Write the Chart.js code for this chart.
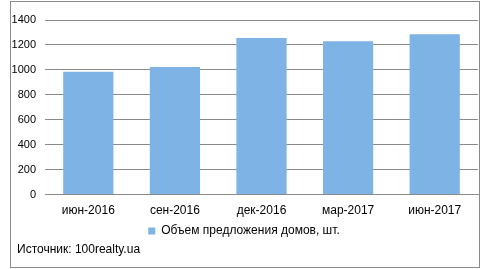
<!DOCTYPE html>
<html>
<head>
<meta charset="utf-8">
<script src="https://cdn.jsdelivr.net/npm/chart.js@4/dist/chart.umd.min.js"></script>
<style>
    html, body { margin: 0; padding: 0; background: #fff; }
    #wrap { position: relative; width: 490px; height: 269px; }
    #ramka { position: absolute; left: 10px; top: 1px; width: 468px; height: 265px; border: 1px solid #8a8a8a; box-sizing: content-box; pointer-events: none; }
    #istochnik { position: absolute; left: 17px; top: 242px; font: 12px "Liberation Sans", Arial, sans-serif; color: #000; }
</style>
</head>
<body>
<div id="wrap">
    <canvas id="grafik" width="490" height="269"></canvas>
    <div id="ramka"></div>
    <div id="istochnik">Источник: 100realty.ua</div>
</div>
<script>
// Данные
const periody = ["июн-2016", "сен-2016", "дек-2016", "мар-2017", "июн-2017"];
const obem = [985, 1023, 1255, 1230, 1285];
const shkalaY = [0, 200, 400, 600, 800, 1000, 1200, 1400];

const siniy = "#7eb3e5";
const seryy = "#8a8a8a";

new Chart(document.getElementById("grafik"), {
    type: "bar",
    data: {
        labels: periody,
        datasets: [{
            label: "Объем предложения домов, шт.",
            data: obem,
            backgroundColor: siniy,
            categoryPercentage: 0.58,
            barPercentage: 1
        }]
    },
    options: {
        responsive: false,
        animation: false,
        devicePixelRatio: 1,
        layout: { padding: { left: 10, right: 12, top: 20, bottom: 22 } },
        plugins: {
            legend: {
                position: "bottom",
                labels: {
                    boxWidth: 7, boxHeight: 7, padding: 6,
                    color: "#000",
                    font: { family: "Liberation Sans", size: 12 }
                }
            },
            tooltip: { enabled: false }
        },
        scales: {
            y: {
                min: 0, max: 1400,
                afterFit: s => { s.width = 35; },
                afterBuildTicks: s => { s.ticks = shkalaY.map(v => ({ value: v })); },
                grid: { color: seryy, drawTicks: false },
                border: { display: false },
                ticks: {
                    color: "#000", padding: 9,
                    font: { family: "Liberation Sans", size: 11 },
                    callback: v => String(v)
                }
            },
            x: {
                grid: { display: false },
                border: { color: seryy },
                ticks: { color: "#000", padding: 1, font: { family: "Liberation Sans", size: 12 } }
            }
        }
    }
});
</script>
</body>
</html>
